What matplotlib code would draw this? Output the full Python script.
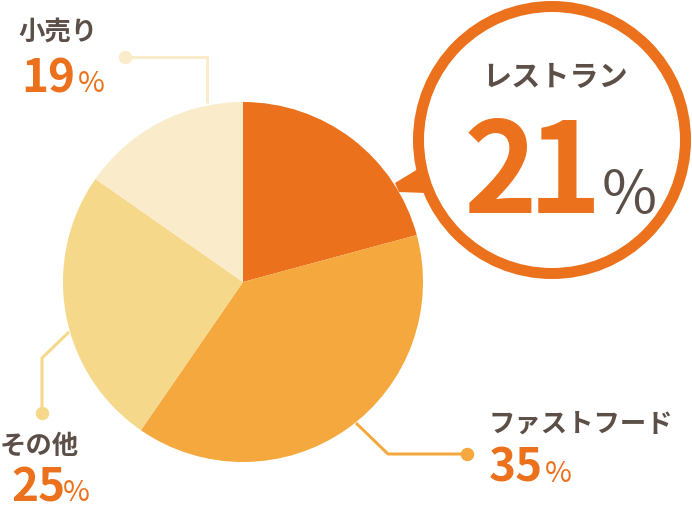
import matplotlib.pyplot as plt
from matplotlib.patches import Circle, Polygon

plt.rcParams['font.family'] = ['Noto Sans CJK JP', 'DejaVu Sans']

# data
categories = ['レストラン', 'ファストフード', 'その他', '小売り']
label_pcts = [21, 35, 25, 19]
# the wedges as drawn are not exactly the printed shares
wedge_shares = [20.8, 38.8, 25.1, 15.3]
colors = ['#EC711C', '#F4A83E', '#F6D88B', '#FAEBCB']

ORANGE = '#EC711C'
GREY = '#5B4F48'

W, H = 692, 509
fig = plt.figure(figsize=(W / 100, H / 100), dpi=100)
ax = fig.add_axes([0, 0, 1, 1])

# pie in pixel coords (y axis points down, so counterclock=True reads clockwise)
cx, cy, r = 243, 282, 180
ax.pie(wedge_shares, colors=colors, center=(cx, cy), radius=r,
       startangle=-90, counterclock=True, wedgeprops=dict(linewidth=0))

ax.set_xlim(0, W)
ax.set_ylim(H, 0)
ax.set_aspect('equal')
ax.axis('off')

# callout bubble for the first category
ax.add_patch(Polygon([(395, 183), (418, 169), (426, 193), (399, 192)],
                     closed=True, facecolor=ORANGE, edgecolor='none', zorder=3))
ax.add_patch(Circle((552, 140), 133.5, facecolor='white', edgecolor=ORANGE,
                    linewidth=11 * 0.72, zorder=4))
ax.text(555, 77, categories[0], fontsize=21, color=GREY, weight='bold',
        ha='center', va='center', zorder=5)
big = str(label_pcts[0])
ax.text(500, 213, big[0], fontsize=90, color=ORANGE, weight='bold',
        ha='center', va='baseline', zorder=5)
ax.text(565, 213, big[1], fontsize=90, color=ORANGE, weight='bold',
        ha='center', va='baseline', zorder=5)
ax.text(602, 213, '%', fontsize=43, color=GREY, ha='left', va='baseline', zorder=5)

# leader lines, the dot sits at the first point
leaders = [
    ([125, 207, 207], [57, 57, 103], colors[3]),
    ([42, 42, 69], [413, 358, 332], colors[2]),
    ([467, 388, 356], [454, 454, 423], colors[1]),
]
for xs, ys, c in leaders:
    ax.plot(xs, ys, color=c, lw=3 * 0.72, solid_capstyle='butt', zorder=2)
    ax.plot(xs[0], ys[0], 'o', color=c, markersize=12 * 0.72, zorder=2)

# outside labels: (index, name x, name y, number x, baseline y, % x)
outside = [
    (3, 18, 32, 21, 92, 78),
    (2, 0, 446, 11, 501, 63),
    (1, 489, 424, 489, 482, 545),
]
for i, nx, ny, px, base, pctx in outside:
    ax.text(nx, ny, categories[i], fontsize=19, color=GREY, weight='bold',
            ha='left', va='center')
    ax.text(px, base, str(label_pcts[i]), fontsize=33, color=ORANGE,
            weight='bold', ha='left', va='baseline')
    ax.text(pctx, base, '%', fontsize=21, color=ORANGE, ha='left', va='baseline')

fig.savefig('out.png', dpi=100)
